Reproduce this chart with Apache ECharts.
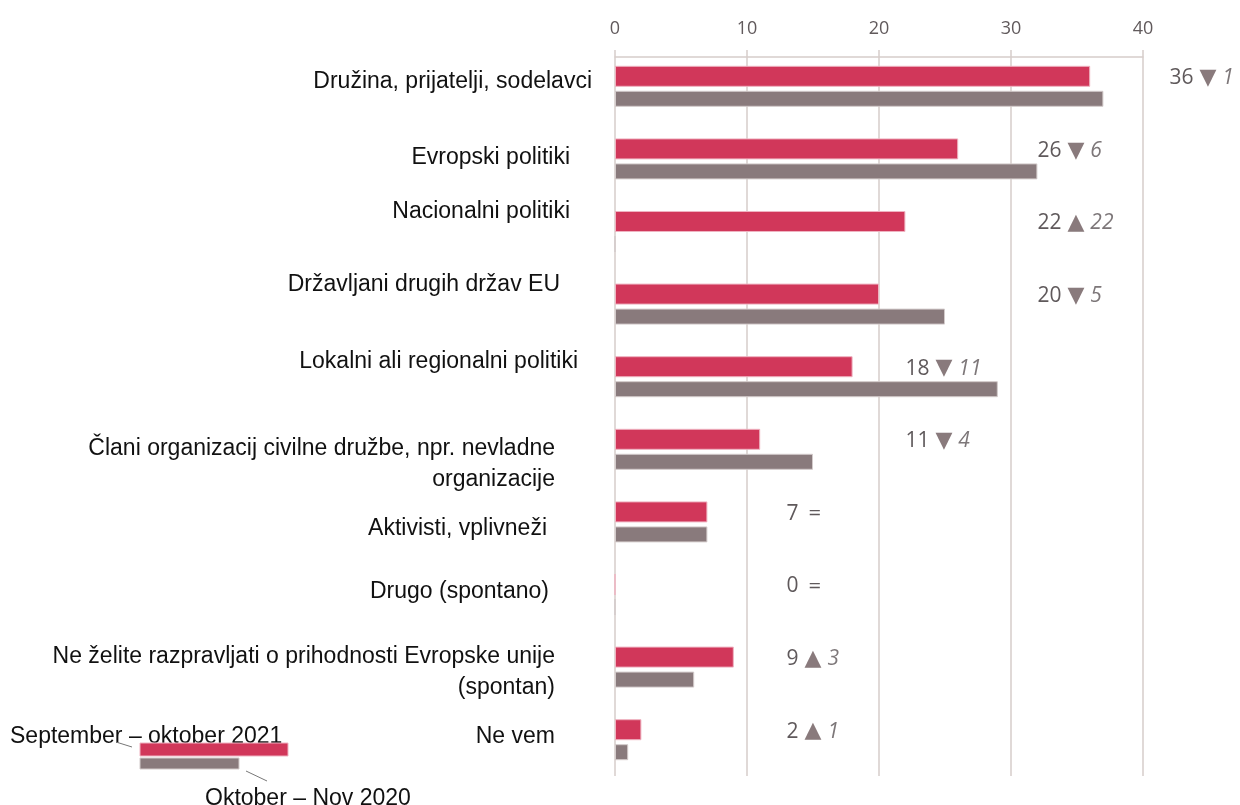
<!DOCTYPE html>
<html>
<head>
<meta charset="utf-8">
<script src="https://cdn.jsdelivr.net/npm/echarts@6/dist/echarts.min.js"></script>
<style>
  html, body { margin: 0; padding: 0; background: #fff; }
  #chart { width: 1240px; height: 805px; }
</style>
</head>
<body>
<div id="chart"></div>
<script>
// kategorije (od zgoraj navzdol)
const categories = [
  'Družina, prijatelji, sodelavci',
  'Evropski politiki',
  'Nacionalni politiki',
  'Državljani drugih držav EU',
  'Lokalni ali regionalni politiki',
  'Člani organizacij civilne družbe, npr. nevladne\norganizacije',
  'Aktivisti, vplivneži',
  'Drugo (spontano)',
  'Ne želite razpravljati o prihodnosti Evropske unije\n(spontan)',
  'Ne vem'
]
const values2021 = [36, 26, 22, 20, 18, 11, 7, 0, 9, 2]
const values2020 = [37, 32, 0, 25, 29, 15, 7, 0, 6, 1]
// kje stoji oznaka spremembe (na osi x)
const noteAt = [42, 32, 32, 32, 22, 22, 13, 13, 13, 13]
const xMin = 0
const xMax = 40
const xStep = 10

const RED = '#d1375a'
const GREY = '#897a7c'
const LINE = '#d6cdca'

// zamik oznak kategorij [levo, gor] v px
const labelNudge = [
  [0, 5], [22, 1], [22, 20], [32, 19], [14, 15],
  [37, -15], [45, -7], [43, 3], [37, -5], [37, 3]
]

const chart = echarts.init(document.getElementById('chart'))

chart.setOption({
  animation: false,
  grid: { left: 615, right: 97, top: 50, bottom: 29 },
  xAxis: {
    type: 'value',
    position: 'top',
    min: xMin,
    max: xMax,
    interval: xStep,
    offset: -7,
    axisLine: { show: true, lineStyle: { color: LINE, width: 1.5 } },
    axisTick: { show: false },
    axisLabel: {
      color: '#615a5c',
      fontSize: 18,
      fontFamily: 'Open Sans',
      margin: 19
    },
    splitLine: { show: true, lineStyle: { color: LINE, width: 1.5 } }
  },
  yAxis: {
    type: 'category',
    inverse: true,
    data: categories,
    axisLine: { show: false },
    axisTick: { show: false },
    axisLabel: { show: false }
  },
  series: [
    {
      name: 'September – oktober 2021',
      type: 'bar',
      data: values2021,
      barWidth: 21,
      barGap: '19%',
      itemStyle: { color: RED, borderColor: '#efb3c1', borderWidth: 1 }
    },
    {
      name: 'Oktober – Nov 2020',
      type: 'bar',
      data: values2020,
      barWidth: 16,
      itemStyle: { color: GREY, borderColor: '#d3cbcb', borderWidth: 1 }
    },
    {
      // oznake kategorij
      type: 'scatter',
      silent: true,
      clip: false,
      symbolSize: 0,
      itemStyle: { color: '#111', opacity: 1 },
      data: categories.map((c, i) => ({
        value: [xMin, i],
        label: { offset: [-labelNudge[i][0], -labelNudge[i][1]] }
      })),
      label: {
        show: true,
        position: 'left',
        distance: 23,
        align: 'right',
        color: '#111',
        fontSize: 23,
        lineHeight: 31,
        fontFamily: 'Liberation Sans',
        formatter: p => categories[p.dataIndex]
      }
    },
    {
      // sprememba glede na 2020
      type: 'scatter',
      silent: true,
      clip: false,
      symbolSize: 0,
      itemStyle: { color: GREY, opacity: 1 },
      data: noteAt.map((x, i) => [x, i]),
      label: {
        show: true,
        position: 'right',
        distance: 0,
        offset: [0, -8],
        formatter: p => {
          const i = p.dataIndex
          const a = values2021[i]
          const b = values2020[i]
          if (a === b) return `{num|${a}}{eq|=}`
          const arrow = a > b ? '▲' : '▼'
          return `{num|${a}}{tri|${arrow}}{chg|${Math.abs(a - b)}}`
        },
        rich: {
          num: { fontSize: 21, color: '#5f595b', fontFamily: 'Open Sans' },
          eq: { fontSize: 22, color: '#5f595b', fontFamily: 'Open Sans', padding: [0, 0, 0, 10] },
          tri: { fontSize: 22, color: GREY, fontFamily: 'DejaVu Sans', padding: [0, 6, 0, 6] },
          chg: { fontSize: 21, color: '#7d7779', fontStyle: 'italic', fontFamily: 'Open Sans' }
        }
      }
    }
  ],
  graphic: [
    {
      type: 'text', left: 10, top: 725,
      style: { text: 'September – oktober 2021', font: '23px "Liberation Sans"', fill: '#111' }
    },
    {
      type: 'rect', shape: { x: 140, y: 743, width: 148, height: 13 },
      style: { fill: RED, stroke: '#efb3c1', lineWidth: 1 }
    },
    {
      type: 'rect', shape: { x: 140, y: 758, width: 99, height: 11 },
      style: { fill: GREY, stroke: '#d3cbcb', lineWidth: 1 }
    },
    {
      type: 'line', shape: { x1: 116, y1: 742, x2: 132, y2: 747 },
      style: { stroke: '#777', lineWidth: 1 }
    },
    {
      type: 'line', shape: { x1: 246, y1: 771, x2: 267, y2: 781 },
      style: { stroke: '#777', lineWidth: 1 }
    },
    {
      type: 'text', left: 205, top: 787,
      style: { text: 'Oktober – Nov 2020', font: '23px "Liberation Sans"', fill: '#111' }
    }
  ]
})
</script>
</body>
</html>
